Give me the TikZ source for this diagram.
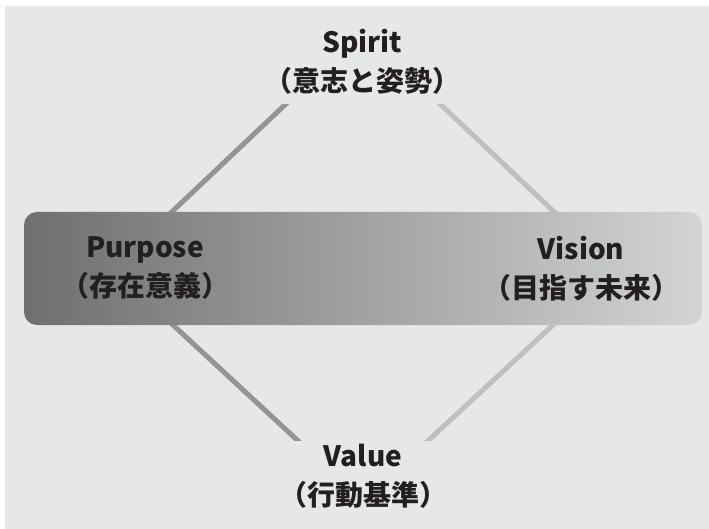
\documentclass[tikz,border=0pt]{standalone}
\usepackage{fontspec}
\setmainfont{Noto Sans CJK JP}
\usetikzlibrary{calc,positioning}

\definecolor{paper}{HTML}{E6E7E8}
\definecolor{ink}{HTML}{231F20}
\definecolor{link dark}{HTML}{949496}
\definecolor{link light}{HTML}{BEBFC1}
\definecolor{bar left}{HTML}{6E6F71}
\definecolor{bar right}{HTML}{D3D4D6}

\begin{document}
\begin{tikzpicture}[
  x=1pt, y=-1pt,
  role label/.style={
    align=center,
    text=ink,
    font=\fontsize{28}{39}\selectfont\bfseries,
    inner sep=0pt,
    outer sep=0pt
  },
  role bar/.style={
    rectangle,
    rounded corners=13pt,
    left color=bar left,
    right color=bar right,
    draw=none,
    minimum width=678pt, minimum height=113pt,
    outer sep=0pt
  },
  link/.style={
    line width=5pt,
    line join=miter
  }
  ]
\useasboundingbox (0,0) rectangle (709,529);
\fill [white] (0,0) rectangle (709,529);
\fill [paper] (5,6) rectangle (709,529);
% Diamond corners
\coordinate (tip top) at (363,31);
\coordinate (tip left) at (112,268.5);
\coordinate (tip right) at (614,268.5);
\coordinate (tip bottom) at (363,501);
% Links
\begin{scope}
  \clip (0,105) rectangle (709,440);
  \draw [link, link dark] (tip top) -- (tip left) -- (tip bottom);
  \draw [link, link light] (tip top) -- (tip right) -- (tip bottom);
\end{scope}
% Bar
\node [role bar] (bar) at (363,268.5) {};
% Spirit
\node [role label] (spirit) at (362,62) {Spirit\\（意志と姿勢）};
% Purpose
\node [role label] (purpose) at ($(bar.west) + (121,0)$) {Purpose\\（存在意義）};
% Vision
\node [role label] (vision) at ($(bar.east) + (-121,0)$) {Vision\\（目指す未来）};
% Value
\node [role label] (value) at (363,476) {Value\\（行動基準）};
\end{tikzpicture}
\end{document}
